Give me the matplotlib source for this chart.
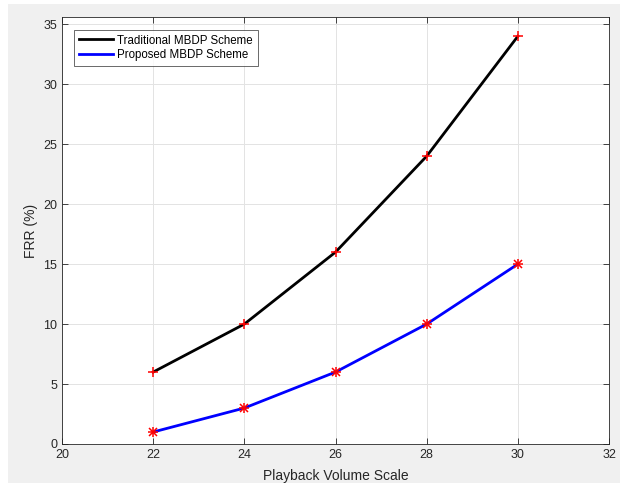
import matplotlib
matplotlib.use("Agg")
import matplotlib.pyplot as plt
from matplotlib.patches import Rectangle

plt.rcParams['font.family'] = ['Liberation Sans', 'DejaVu Sans']

x = [22, 24, 26, 28, 30]
traditional = [6, 10, 16, 24, 34]
proposed = [1, 3, 6, 10, 15]
labels = ["Traditional MBDP Scheme", "Proposed MBDP Scheme"]
xticks = [20, 22, 24, 26, 28, 30, 32]
yticks = [0, 5, 10, 15, 20, 25, 30, 35]

fig = plt.figure(figsize=(6.24, 4.87), dpi=100, facecolor='white')
fig.patches.append(Rectangle((0.013, 0.008), 0.981, 0.984, transform=fig.transFigure,
                             facecolor='#f0f0f0', edgecolor='none', zorder=-10))
ax = fig.add_axes([0.0994, 0.0883, 0.8766, 0.8767])
ax.set_facecolor('white')

ax.plot(x, traditional, color='black', lw=2, label=labels[0], zorder=3)
ax.plot(x, proposed, color='#0000ff', lw=2, label=labels[1], zorder=3)
ax.plot(x, traditional, ls='none', marker='+', color='red', ms=7, mew=1.1, zorder=4)
ax.plot(x, proposed, ls='none', marker='+', color='red', ms=7, mew=1.1, zorder=4)
ax.plot(x, proposed, ls='none', marker='x', color='red', ms=5.5, mew=1.1, zorder=4)

ax.set_xlim(20, 32)
ax.set_ylim(0, 35.6)
ax.set_xticks(xticks)
ax.set_yticks(yticks)
ax.grid(True, color='#e3e3e3', lw=0.7)
ax.set_axisbelow(True)
ax.tick_params(direction='in', top=True, right=True, labelsize=9, colors='#262626',
               length=4, width=0.6)
for s in ax.spines.values():
    s.set_color('#262626')
    s.set_linewidth(0.6)
ax.set_xlabel('Playback Volume Scale', fontsize=10, color='#262626', labelpad=6)
ax.set_ylabel('FRR (%)', fontsize=10, color='#262626', labelpad=4)

leg = ax.legend(loc='upper left', fontsize=8.3, frameon=True, fancybox=False,
                edgecolor='#262626', handlelength=3.0, handletextpad=0.35,
                borderpad=0.4, borderaxespad=0.3, labelspacing=0.25,
                bbox_to_anchor=(0.016, 0.978))
leg.get_frame().set_linewidth(0.6)

fig.savefig('out.png', dpi=100, facecolor=fig.get_facecolor())
